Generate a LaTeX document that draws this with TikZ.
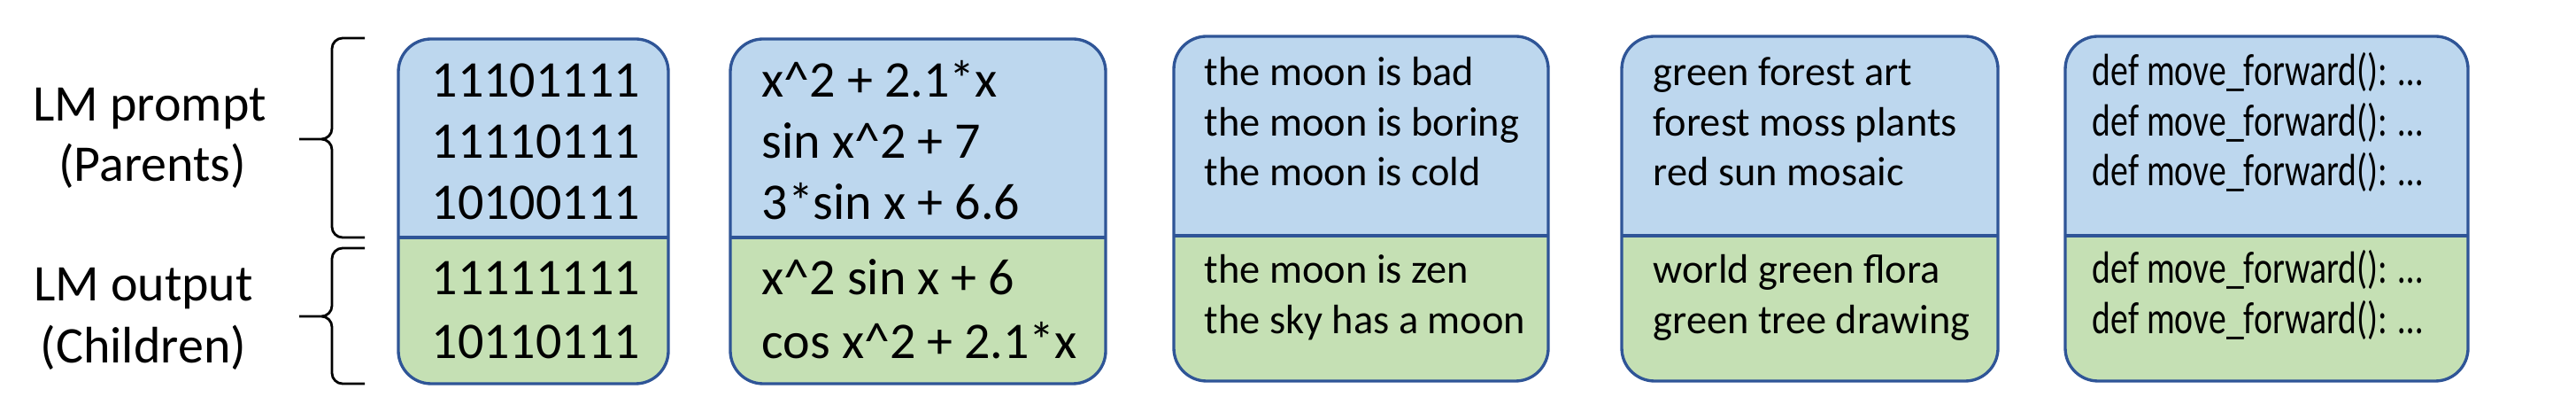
\documentclass[tikz,border=0pt]{standalone}
\usepackage{fontspec}
\setmainfont{Carlito}
\usepackage{tikz}
\definecolor{boxblue}{RGB}{47, 85, 151}
\definecolor{parentfill}{RGB}{189, 215, 238}
\definecolor{childfill}{RGB}{197, 224, 180}
\tikzset{
	boxline/.style={draw=boxblue, line width=0.95pt},
	bigtext/.style={font=\fontsize{16.5}{19.8}\selectfont, anchor=base west, inner sep=0pt},
	smalltext/.style={font=\fontsize{13.2}{15.8}\selectfont, anchor=base west, inner sep=0pt},
	codetext/.style={font=\fontsize{14.5}{17.4}\selectfont, anchor=base west, inner sep=0pt},
	sidelabel/.style={font=\fontsize{16.5}{19.8}\selectfont, anchor=base, inner sep=0pt},
	bracket/.style={line width=0.8pt, rounded corners=0.12cm},
}
\newcommand{\boxr}{0.37cm}
\newcommand{\popbox}[5]{% {left}{right}{top}{divider}{bottom}
	\fill[childfill, rounded corners=\boxr] (#1,#5) rectangle (#2,#3);
	\begin{scope}
		\clip (#1,#4) rectangle (#2,#3);
		\fill[parentfill, rounded corners=\boxr] (#1,#5) rectangle (#2,#3);
	\end{scope}
	\draw[boxline, rounded corners=\boxr] (#1,#5) rectangle (#2,#3);
	\draw[boxline] (#1,#4) -- (#2,#4);
}

\begin{document}
\begin{tikzpicture}
		\useasboundingbox (0,0) rectangle (29.10,4.48);

		% side labels
		\node[sidelabel] (lmprompt) at (1.69,3.11) {LM prompt};
		\node[sidelabel] (parents) at (1.72,2.43) {(Parents)};
		\node[sidelabel] (lmoutput) at (1.62,1.08) {LM output};
		\node[sidelabel] (children) at (1.62,0.38) {(Children)};

		\draw[bracket] (4.12,4.05) -- (3.75,4.05) -- (3.75,2.91) -- (3.38,2.91)
			(3.38,2.91) -- (3.75,2.91) -- (3.75,1.80) -- (4.12,1.80);
		\draw[bracket] (4.12,1.68) -- (3.75,1.68) -- (3.75,0.91) -- (3.38,0.91)
			(3.38,0.91) -- (3.75,0.91) -- (3.75,0.15) -- (4.12,0.15);

		% populations
		\popbox{4.50}{7.55}{4.04}{1.80}{0.15}
		\popbox{8.25}{12.49}{4.04}{1.80}{0.15}
		\popbox{13.26}{17.49}{4.07}{1.82}{0.18}
		\popbox{18.32}{22.57}{4.07}{1.82}{0.18}
		\popbox{23.33}{27.88}{4.07}{1.82}{0.18}

		\foreach \t [count=\i] in {11101111, 11110111, 10100111}
			\node[bigtext] (bitp\i) at (4.87,3.38-0.69*\i+0.69) {\t};
		\foreach \t [count=\i] in {11111111, 10110111}
			\node[bigtext] (bitc\i) at (4.87,1.15-0.72*\i+0.72) {\t};

		\foreach \t [count=\i] in {{x\textasciicircum2 + 2.1*x}, {sin x\textasciicircum2 + 7}, {3*sin x + 6.6}}
			\node[bigtext] (symp\i) at (8.60,3.38-0.69*\i+0.69) {\t};
		\foreach \t [count=\i] in {{x\textasciicircum2 sin x + 6}, {cos x\textasciicircum2 + 2.1*x}}
			\node[bigtext] (symc\i) at (8.60,1.15-0.72*\i+0.72) {\t};

		\foreach \t [count=\i] in {the moon is bad, the moon is boring, the moon is cold}
			\node[smalltext] (txtp\i) at (13.60,3.51-0.565*\i+0.565) {\t};
		\foreach \t [count=\i] in {the moon is zen, the sky has a moon}
			\node[smalltext] (txtc\i) at (13.60,1.28-0.57*\i+0.57) {\t};

		\foreach \t [count=\i] in {green forest art, forest moss plants, red sun mosaic}
			\node[smalltext] (imgp\i) at (18.67,3.51-0.565*\i+0.565) {\t};
		\foreach \t [count=\i] in {world green flora, green tree drawing}
			\node[smalltext] (imgc\i) at (18.67,1.28-0.57*\i+0.57) {\t};

		\foreach \i in {1,2,3}
			\node[codetext] (codep\i) at (23.63,3.51-0.565*\i+0.565) {\scalebox{0.78}[1]{def move\_forward(): …}};
		\foreach \i in {1,2}
			\node[codetext] (codec\i) at (23.63,1.28-0.57*\i+0.57) {\scalebox{0.78}[1]{def move\_forward(): …}};
\end{tikzpicture}
\end{document}
